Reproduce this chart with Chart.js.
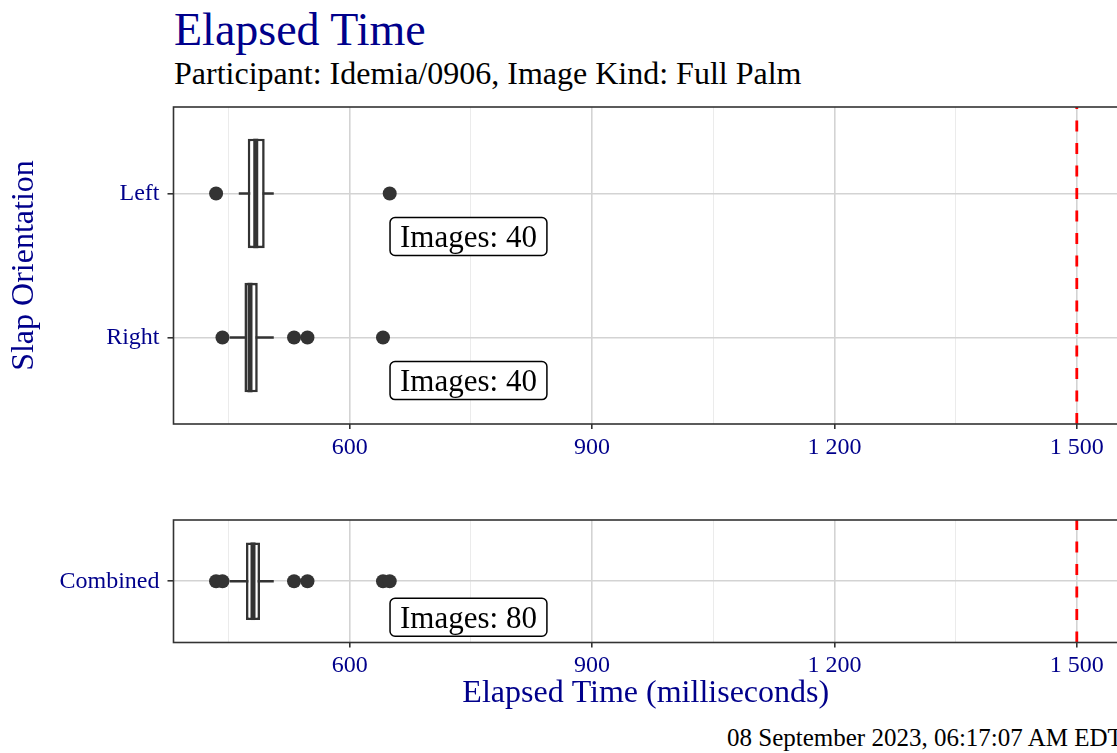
<!DOCTYPE html>
<html>
<head>
<meta charset="utf-8">
<title>Elapsed Time</title>
<script src="https://cdn.jsdelivr.net/npm/chart.js@4.4.0/dist/chart.umd.min.js"></script>
<style>
  html, body { margin:0; padding:0; background:#fff; overflow:hidden; }
  body { width:1117px; height:753px; position:relative; font-family:'Liberation Serif', 'Times New Roman', serif; }
  .txt { position:absolute; white-space:nowrap; line-height:1; }
  #title { left:174px; top:7px; font-size:46px; color:#00008b; }
  #subtitle { left:174px; top:57px; font-size:32px; color:#000; }
  #stamp { left:727px; top:725px; font-size:25px; color:#000; }
  canvas { position:absolute; left:0; }
  #slapChart { top:0; }
  #combChart { top:470px; }
</style>
</head>
<body>
<div id="title" class="txt">Elapsed Time</div>
<div id="subtitle" class="txt">Participant: Idemia/0906, Image Kind: Full Palm</div>
<canvas id="slapChart" width="1125" height="470"></canvas>
<canvas id="combChart" width="1125" height="250"></canvas>
<div id="stamp" class="txt">08 September 2023, 06:17:07 AM EDT</div>
<script>
const FONT = "'Liberation Serif', 'Times New Roman', serif";
const NAVY = '#00008b';

// x axis (milliseconds)
const X_MIN = 382, X_MAX = 1551;
const MAJOR_TICKS = [600, 900, 1200, 1500];
const MAJOR_LABELS = ['600', '900', '1 200', '1 500'];
const MINOR_TICKS = [450, 750, 1050, 1350];
const LIMIT = 1500;        // red dashed line
const LABEL_AT = 650;      // where the "Images: n" boxes start

// top panel, by slap orientation
const slapCats = ['Left', 'Right'];
const slapLower = [462.8, 451.6];
const slapQ1 = [473.9, 469.8];
const slapMedian = [483.8, 476.7];
const slapQ3 = [494.9, 486.3];
const slapUpper = [506.1, 506.1];
const slapOutliers = [[434.7, 649.6], [442.6, 531.2, 547.8, 641.3]];
const slapCounts = [40, 40];

// bottom panel, both hands together
const combCats = ['Combined'];
const combLower = [451.6];
const combQ1 = [471.7];
const combMedian = [480.4];
const combQ3 = [489.1];
const combUpper = [506.1];
const combOutliers = [[434.7, 442.6, 531.2, 547.8, 641.3, 649.6]];
const combCounts = [80];

const PLOT_LEFT = 173.5;
const BOX_WIDTH = 0.76;    // share of one category step
const LABEL_DROP = 1 / 6;  // label box top, below the category line

Chart.defaults.font.family = FONT;

const isMajor = c => c.tick && MAJOR_TICKS.includes(c.tick.value);

function decor(p) {
  return {
    id: 'decor',
    beforeDatasetsDraw(chart) {
      const { ctx, chartArea: a, scales: { x } } = chart;
      const px = x.getPixelForValue(LIMIT);
      ctx.save();
      ctx.strokeStyle = '#ff0000';
      ctx.lineWidth = 2.8;
      ctx.setLineDash([11, 11.5]);
      ctx.beginPath();
      ctx.moveTo(px, a.bottom);
      ctx.lineTo(px, a.top);
      ctx.stroke();
      ctx.restore();
    },
    afterDatasetsDraw(chart) {
      const { ctx, chartArea: a, scales: { x, y } } = chart;
      ctx.save();
      // medians
      chart.getDatasetMeta(0).data.forEach((bar, i) => {
        const { y: cy, height } = bar.getProps(['y', 'height'], true);
        const mx = x.getPixelForValue(p.median[i]);
        ctx.strokeStyle = '#333';
        ctx.lineWidth = 5;
        ctx.beginPath();
        ctx.moveTo(mx, cy - height / 2);
        ctx.lineTo(mx, cy + height / 2);
        ctx.stroke();
      });
      // count labels
      ctx.font = `31px ${FONT}`;
      p.counts.forEach((n, i) => {
        const text = `Images: ${n}`;
        const left = x.getPixelForValue(LABEL_AT);
        const top = y.getPixelForValue(i + 1 + LABEL_DROP);
        const w = ctx.measureText(text).width + 20;
        ctx.beginPath();
        ctx.roundRect(left, top, w, 38, 5);
        ctx.fillStyle = '#fff';
        ctx.fill();
        ctx.lineWidth = 1.5;
        ctx.strokeStyle = '#000';
        ctx.stroke();
        ctx.fillStyle = '#000';
        ctx.textBaseline = 'alphabetic';
        ctx.fillText(text, left + 10, top + 29.6);
      });
      // panel border
      ctx.strokeStyle = '#333';
      ctx.lineWidth = 1.6;
      ctx.strokeRect(a.left, a.top, a.right - a.left, a.bottom - a.top);
      ctx.restore();
    }
  };
}

function boxChart(id, p, cfg) {
  const n = p.cats.length;
  // with a single category chart.js measures the whole axis (1.2 steps)
  const barPct = BOX_WIDTH / (n > 1 ? 1 : 1.2);
  const datasets = [
    {
      type: 'bar',
      data: p.cats.map((c, i) => ({ x: [p.q1[i], p.q3[i]], y: i + 1 })),
      backgroundColor: '#fff', borderColor: '#333', borderWidth: 2.6,
      borderSkipped: false, categoryPercentage: 1, barPercentage: barPct,
      order: 1
    },
    ...p.cats.map((c, i) => ({
      type: 'line',
      data: [{ x: p.lower[i], y: i + 1 }, { x: p.upper[i], y: i + 1 }],
      borderColor: '#333', borderWidth: 2.6, pointRadius: 0, order: 2
    })),
    {
      type: 'scatter',
      data: p.outliers.flatMap((arr, i) => arr.map(v => ({ x: v, y: i + 1 }))),
      pointRadius: 7, pointBackgroundColor: '#333', pointBorderWidth: 0,
      order: 0
    }
  ];

  return new Chart(document.getElementById(id), {
    type: 'bar',
    data: { datasets },
    options: {
      indexAxis: 'y',
      responsive: false,
      animation: false,
      devicePixelRatio: 1,
      layout: { padding: { top: cfg.padTop, right: 7, left: 0, bottom: 0 } },
      plugins: { legend: { display: false }, tooltip: { enabled: false } },
      scales: {
        x: {
          type: 'linear', min: X_MIN, max: X_MAX, offset: false,
          afterBuildTicks: s => {
            s.ticks = [...MINOR_TICKS, ...MAJOR_TICKS].sort((a, b) => a - b).map(v => ({ value: v }));
          },
          afterFit: s => { s.height = cfg.xHeight; },
          ticks: {
            autoSkip: false, maxRotation: 0, padding: 4, color: NAVY,
            font: { family: FONT, size: 24 },
            callback: v => { const k = MAJOR_TICKS.indexOf(v); return k < 0 ? '' : MAJOR_LABELS[k]; }
          },
          grid: {
            offset: false,
            color: c => isMajor(c) ? '#d3d3d3' : '#ebebeb',
            lineWidth: c => isMajor(c) ? 1.6 : 1,
            tickLength: 5,
            tickColor: c => isMajor(c) ? '#333' : 'rgba(0,0,0,0)',
            tickWidth: 1.6
          },
          border: { display: false },
          title: cfg.xTitle
            ? { display: true, text: cfg.xTitle, color: NAVY, font: { family: FONT, size: 32 }, padding: { top: 0, bottom: 7 } }
            : { display: false }
        },
        y: {
          type: 'linear', reverse: true, min: 0.4, max: n + 0.6, offset: false,
          afterBuildTicks: s => { s.ticks = p.cats.map((c, i) => ({ value: i + 1 })); },
          afterFit: s => { s.width = PLOT_LEFT; },
          ticks: {
            color: NAVY, padding: 8, font: { family: FONT, size: 24 },
            callback: (v, i) => p.cats[i]
          },
          grid: { offset: false, color: '#d3d3d3', lineWidth: 1.6, tickLength: 6, tickColor: '#333', tickWidth: 1.6 },
          border: { display: false },
          title: cfg.yTitle
            ? { display: true, text: cfg.yTitle, color: NAVY, font: { family: FONT, size: 32 }, padding: { top: 5, bottom: 0 } }
            : { display: false }
        }
      }
    },
    plugins: [decor(p)]
  });
}

boxChart('slapChart', {
  cats: slapCats, lower: slapLower, q1: slapQ1, median: slapMedian, q3: slapQ3,
  upper: slapUpper, outliers: slapOutliers, counts: slapCounts
}, { padTop: 107, xHeight: 46, yTitle: 'Slap Orientation' });

boxChart('combChart', {
  cats: combCats, lower: combLower, q1: combQ1, median: combMedian, q3: combQ3,
  upper: combUpper, outliers: combOutliers, counts: combCounts
}, { padTop: 50, xHeight: 77.5, xTitle: 'Elapsed Time (milliseconds)' });
</script>
</body>
</html>
